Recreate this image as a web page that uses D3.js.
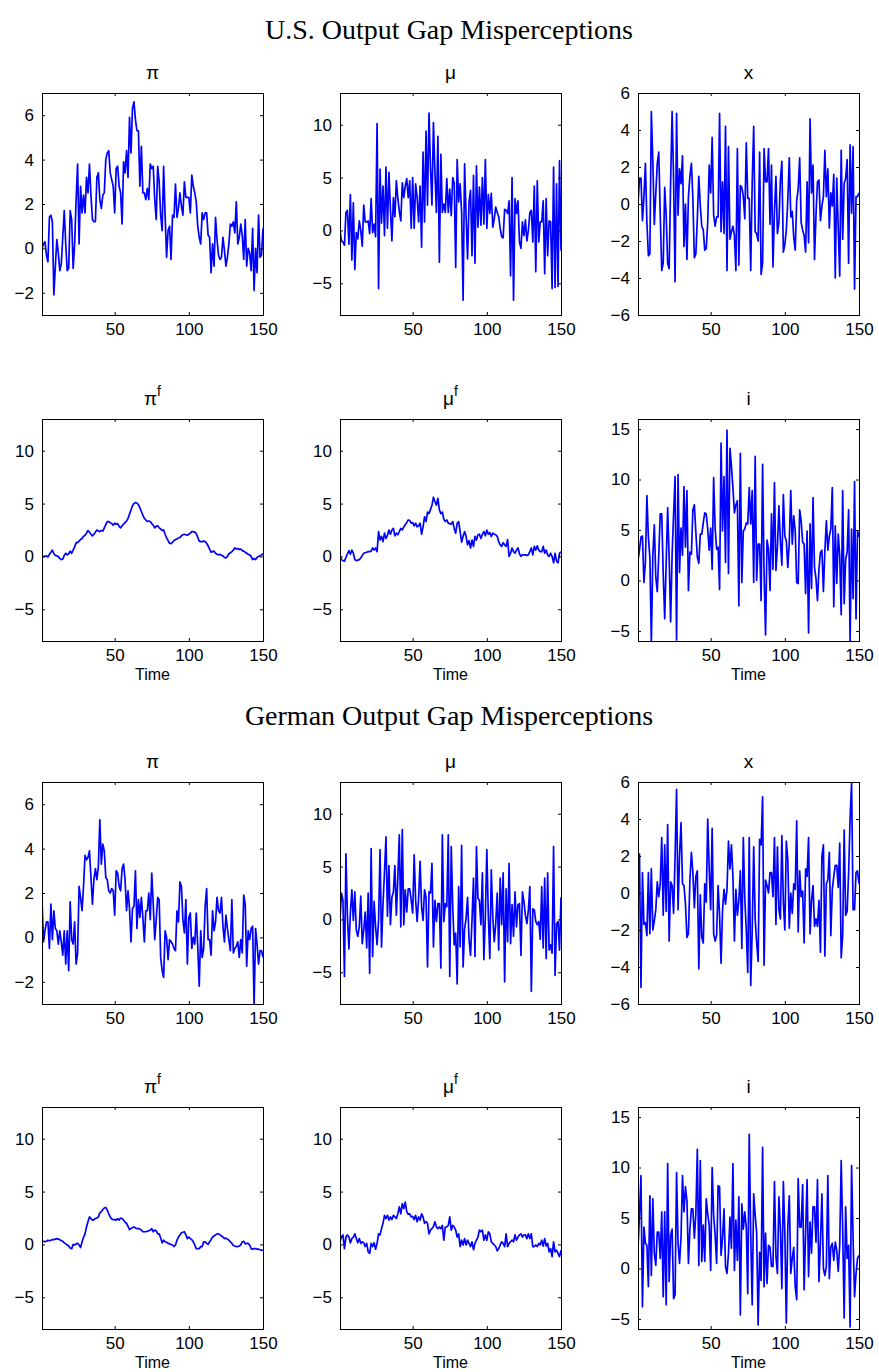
<!DOCTYPE html>
<html>
<head>
<meta charset="utf-8">
<script src="https://cdn.jsdelivr.net/npm/d3@7"></script>
<style>
  body { margin: 0; background: #ffffff; }
  svg { display: block; }
  text { font-family: "Liberation Sans", Arial, Helvetica, sans-serif; fill: #000; }
</style>
</head>
<body>
<svg id="fig" width="879" height="1372"></svg>
<script>
// ---- U.S. simulated paths (t = 1..150) ----
const usPi = [
  0.0,0.2,0.3,-0.3,-0.6,1.4,1.5,1.2,-2.1,-0.8,
  0.4,-0.2,-1.0,-0.7,0.5,1.7,0.2,-1.0,-0.9,1.7,
  1.3,-0.9,0.2,2.2,3.8,0.2,2.8,1.6,2.4,1.6,
  3.2,2.5,3.8,2.4,1.3,1.2,1.2,3.2,3.4,2.2,
  1.8,2.4,2.5,4.0,4.3,4.4,3.4,3.1,2.8,1.6,
  3.6,3.7,2.8,2.5,1.1,3.9,3.4,4.4,3.2,5.9,
  4.3,6.3,6.6,5.8,5.3,5.3,2.8,4.6,2.5,2.5,
  2.2,2.7,2.2,3.8,3.6,3.7,2.2,1.3,3.7,3.0,
  1.5,0.8,3.7,1.5,-0.4,0.8,1.0,-0.5,1.5,1.4,
  2.9,1.4,1.8,2.5,1.9,1.5,3.0,2.3,2.3,2.3,
  1.6,3.3,2.8,2.5,2.1,1.0,0.5,0.2,1.6,1.3,
  1.6,1.6,0.6,0.5,-1.1,0.2,-0.8,1.4,0.4,-0.3,
  -0.5,-0.4,0.5,-0.1,-0.8,-0.4,0.2,1.1,1.0,1.2,
  0.7,2.1,0.2,0.5,1.1,0.6,-0.5,1.3,-0.8,0.0,
  -0.2,-1.0,0.9,-1.9,0.0,-1.1,1.5,-0.4,-0.3,0.9
];
const usMu = [
  0.0,-1.0,-1.1,-1.4,1.7,1.9,-1.3,3.4,-2.8,2.6,
  -3.7,-0.2,-0.8,0.9,0.0,-1.5,2.4,0.8,0.8,0.9,
  -0.3,3.0,-0.2,0.6,-0.6,10.1,-5.5,5.8,0.7,4.2,
  -0.5,6.0,0.2,5.5,2.0,-1.0,3.1,1.3,4.7,3.0,
  1.8,0.9,4.5,3.1,4.2,4.9,3.1,4.7,0.2,5.0,
  0.2,4.4,3.1,0.8,4.2,-1.6,7.4,0.8,9.4,2.4,
  11.1,6.0,2.4,10.2,5.5,1.7,8.9,-3.0,7.2,1.7,
  2.5,1.7,4.9,1.7,3.9,1.4,5.0,4.5,-3.5,6.7,
  2.7,4.4,1.7,-6.6,6.3,1.4,-2.7,2.7,3.8,-2.4,
  5.2,-3.1,6.1,0.3,4.1,0.5,5.0,0.6,6.7,0.2,
  3.4,1.6,3.5,0.3,1.1,2.2,1.7,1.3,0.2,-0.6,
  -0.7,2.0,1.9,1.6,2.8,-4.3,5.0,-6.6,3.0,1.6,
  2.8,-1.1,-1.7,0.8,-0.5,1.0,-1.0,0.0,1.7,1.9,
  -1.1,4.2,-3.9,4.7,-1.1,0.8,0.8,2.8,-4.1,3.0,
  -2.4,0.9,0.8,-5.5,6.0,-5.4,4.4,-5.3,6.6,-1.9
];
const usX = [
  0.0,1.4,1.4,-0.9,0.4,2.2,-1.0,-2.8,-2.7,5.0,
  2.3,-1.1,0.6,2.2,2.8,-0.6,-3.6,-3.2,0.9,-0.6,
  -3.2,-3.5,1.2,5.0,1.3,-4.2,4.9,-0.6,1.9,1.1,
  2.6,-2.3,0.0,-3.0,0.4,1.5,2.2,0.3,-2.9,-2.7,
  -0.8,1.5,-0.1,-1.2,-1.4,-2.5,-2.4,-1.0,2.1,0.6,
  3.6,-0.6,-1.2,-0.7,-0.7,4.9,-1.5,1.2,-1.6,4.2,
  -3.6,3.1,-1.9,-1.5,-1.2,-1.7,-3.6,3.0,-3.3,1.0,
  0.9,0.4,-0.8,3.3,0.3,0.3,-3.6,1.2,4.2,-1.5,
  -1.6,-2.0,2.8,-3.8,-3.2,3.0,1.2,1.2,3.0,-1.1,
  2.1,-3.4,-0.4,1.5,-1.6,-1.0,1.3,2.3,-2.6,-2.2,
  -1.4,0.2,2.5,-0.7,-0.4,-1.8,-2.5,0.2,0.8,2.5,
  -1.0,-1.4,-1.7,-2.6,1.2,-2.1,4.6,0.6,2.1,-3.0,
  -0.6,1.2,1.3,-0.9,-0.1,0.4,2.9,0.4,1.9,-1.3,
  0.6,-0.1,1.6,-4.0,1.4,-1.3,-3.9,2.9,-1.9,1.1,
  1.4,2.4,-3.2,3.2,-0.5,3.1,-4.6,0.4,0.4,0.6
];
const usPiF = [
  0.0,0.02,0.0,0.05,-0.05, 0.2,0.4,0.6,0.25,0.1,
  0.05,0.0,-0.2,-0.3,-0.25, 0.1,0.3,0.15,0.25,0.5,
  0.3,0.6,0.9,1.3,1.3, 1.45,1.6,1.7,1.9,2.0,
  2.2,2.45,2.3,2.1,1.95, 2.1,2.3,2.5,2.4,2.35,
  2.45,2.4,2.7,3.0,3.3, 3.3,3.2,3.1,2.95,3.15,
  3.05,3.1,2.85,2.7,2.9, 3.05,3.2,3.35,3.6,4.0,
  4.4,4.8,5.0,5.1,5.05, 4.9,4.6,4.25,3.9,3.6,
  3.45,3.3,3.35,3.3,3.1, 2.95,2.7,2.85,2.9,2.7,
  2.6,2.45,2.5,2.1,1.75, 1.5,1.25,1.2,1.35,1.5,
  1.6,1.65,1.75,1.8,1.95, 2.05,2.1,2.05,2.0,2.1,
  2.2,2.35,2.35,2.3,2.15, 1.8,1.45,1.4,1.4,1.45,
  1.4,1.25,1.0,0.7,0.4, 0.45,0.5,0.3,0.2,0.15,
  0.2,0.1,0.05,-0.1,-0.15, 0.0,0.25,0.35,0.45,0.6,
  0.8,0.7,0.75,0.65,0.7, 0.55,0.5,0.4,0.3,0.2,
  0.15,0.0,-0.3,-0.2,-0.3, -0.1,0.0,0.05,0.15,0.25
];
const usMuF = [
  0.0,-0.3,-0.4,-0.45,-0.1, 0.25,0.55,0.2,0.6,0.3,
  -0.3,-0.4,-0.35,-0.3,-0.15, 0.1,0.3,0.35,0.4,0.45,
  0.45,0.5,0.8,0.6,0.8, 0.45,2.35,1.55,1.9,1.4,
  2.2,1.7,2.0,2.5,2.1, 2.5,2.65,1.95,2.2,2.05,
  2.35,2.65,2.5,2.8,3.0, 3.2,3.45,3.4,3.15,3.2,
  2.9,3.15,2.8,2.9,3.15, 2.1,2.8,3.75,3.3,4.2,
  4.05,4.45,4.85,5.6,5.2, 4.85,5.5,4.4,4.05,4.2,
  3.5,3.3,3.45,3.15,3.1, 3.05,3.3,2.65,2.2,3.15,
  3.3,2.35,1.35,1.9,2.35, 1.9,1.1,1.5,0.8,1.55,
  0.95,1.9,1.55,2.05,2.1, 1.7,2.1,2.35,1.95,2.5,
  2.1,2.25,1.9,2.2,2.1, 2.05,1.9,1.4,1.1,0.95,
  1.3,1.1,0.95,1.6,0.0, 0.3,0.8,0.45,0.3,0.6,
  0.8,0.25,0.0,0.15,0.15, 0.15,0.1,0.15,0.45,0.8,
  0.15,0.95,0.6,1.0,0.6, 0.45,0.45,0.95,0.3,0.6,
  0.15,0.0,0.3,0.0,-0.6, 0.3,-0.45,-0.6,0.3,0.45
];
const usI = [
  2.0,3.0,4.3,4.4,-0.2,1.8,8.4,4.3,2.3,-6.2,
  2.5,5.5,0.3,-1.1,2.5,6.6,6.6,0.7,-3.8,1.8,
  7.2,2.3,-4.1,2.6,6.6,10.3,-5.9,10.5,0.8,5.2,
  2.5,9.3,3.3,8.9,-1.0,2.8,2.6,7.0,7.5,4.8,
  2.3,1.7,4.6,4.6,5.7,6.7,6.6,5.1,3.0,5.2,
  1.1,10.2,5.2,3.1,3.3,-0.9,13.6,4.9,10.3,1.8,
  14.9,0.7,13.1,11.3,9.2,6.7,7.5,7.9,-2.5,12.6,
  -0.2,4.9,5.1,5.7,5.6,9.2,5.6,8.9,-0.2,12.3,
  0.0,3.6,3.6,-2.0,11.5,0.7,-5.4,4.0,3.1,-1.0,
  6.6,1.1,9.7,1.0,3.3,7.4,3.9,1.5,8.5,4.4,
  3.9,1.3,3.8,8.9,3.6,6.4,4.9,-0.2,-0.3,7.0,
  5.9,3.8,3.6,-1.3,4.9,-5.2,5.6,-0.8,8.2,1.3,
  0.2,-2.0,1.1,2.8,3.0,-1.1,3.0,5.9,3.0,4.4,
  5.1,9.2,-2.6,5.4,-0.3,4.6,2.5,-3.4,8.9,-2.3,
  2.1,2.8,7.0,-6.1,5.1,-1.8,9.8,-3.8,4.9,4.3
];

// ---- German simulated paths (t = 1..150) ----
const dePi = [
  1.7,-0.2,0.3,0.7,0.7,-0.5,1.5,-0.1,1.2,0.4,
  0.3,-0.3,0.3,-0.2,-0.8,0.3,-1.2,0.3,-1.5,1.6,
  -0.1,-0.3,0.7,-1.2,-0.7,2.3,1.8,1.2,2.3,3.7,
  3.5,3.6,3.9,2.7,1.5,2.6,3.1,2.6,3.2,5.3,
  3.3,4.2,3.9,2.7,2.6,2.1,2.0,2.2,2.1,1.0,
  3.0,2.9,2.3,2.1,3.1,3.3,2.6,1.2,2.1,1.3,
  -0.2,1.3,1.4,3.0,0.4,1.7,0.9,1.8,0.9,-0.2,
  1.2,1.2,2.0,0.8,2.9,1.5,-0.1,0.8,1.8,1.7,
  -0.9,-1.5,-1.8,0.3,0.0,-1.0,-0.1,-0.2,-0.3,-0.5,
  -0.6,1.2,0.7,2.5,2.3,0.8,0.2,1.7,-1.2,0.9,
  1.1,-0.5,0.0,-0.3,1.1,-0.4,-2.2,0.3,-0.9,-0.5,
  1.4,2.2,-0.1,-0.1,-0.8,1.2,0.3,0.7,1.8,1.2,
  1.1,1.8,0.5,-0.2,1.0,0.4,-0.1,-0.6,1.7,-0.7,
  -0.5,-0.4,-0.2,-0.9,-0.1,-0.7,1.9,1.5,-1.3,0.3,
  -0.1,0.4,0.5,-3.1,0.4,-0.3,-1.2,-0.6,-0.6,-0.9
];
const deMu = [
  0.0,2.5,1.8,-5.4,6.2,0.3,-2.8,0.6,2.8,-0.1,
  2.6,-1.0,-1.6,-0.7,2.2,-2.3,-1.0,0.7,-2.7,2.5,
  -5.1,6.7,-3.5,1.7,-0.7,-2.4,-0.1,6.6,-2.6,1.5,
  4.5,7.8,0.3,5.1,-0.5,2.1,2.6,5.1,0.4,4.0,
  8.0,-0.7,8.5,-0.5,2.8,0.7,2.9,2.9,1.8,0.6,
  6.1,1.8,-0.2,2.0,5.5,1.2,-0.1,2.8,2.1,-4.5,
  2.6,2.5,5.3,-2.6,1.8,-0.2,1.5,1.5,-4.6,8.0,
  -0.2,1.5,1.2,8.0,-5.4,6.9,1.2,-2.4,-1.3,-6.1,
  3.1,-2.6,7.0,-4.5,-0.9,0.1,2.1,-1.9,-3.4,-0.1,
  3.9,-3.5,6.9,2.0,1.8,-0.5,4.4,-3.8,0.3,6.6,
  0.4,-3.7,4.7,0.3,-2.1,-0.4,2.5,-2.9,3.9,-0.5,
  4.4,-5.9,2.9,-2.1,5.3,-2.3,1.4,-1.6,2.6,-0.7,
  1.4,1.5,-3.4,2.6,1.7,0.4,-0.4,0.9,3.1,-6.8,
  1.0,0.9,-0.2,-0.5,-0.2,-1.9,3.1,-2.7,3.9,-3.7,
  4.4,-2.9,-2.4,-3.2,6.9,-5.3,-0.4,-0.2,-2.9,2.1
];
const deX = [
  0.0,2.1,-5.1,1.1,-1.7,-1.6,-2.3,1.1,-2.2,1.3,
  -2.0,-1.5,-0.9,0.6,-0.2,0.5,3.0,-1.2,2.6,-1.0,
  3.7,-2.6,0.6,0.4,-1.1,2.0,5.6,-0.9,2.0,3.8,
  0.5,0.4,-0.6,-2.4,-2.2,0.7,2.2,1.1,-0.8,0.9,
  1.2,-4.1,-0.1,-2.4,-2.7,0.5,-0.5,4.0,1.3,-0.9,
  3.5,-2.2,-2.6,-2.3,0.4,-1.2,-3.8,-0.9,0.2,-0.6,
  0.2,2.8,1.3,2.6,0.9,-2.6,0.2,-1.2,-0.4,1.2,
  -3.0,3.0,-0.3,-2.0,-4.3,3.0,-5.0,-2.0,2.5,-1.4,
  -2.7,-3.7,2.9,2.6,5.2,-3.9,0.7,0.4,0.0,1.1,
  1.1,-0.2,3.0,-1.7,2.5,-0.9,-1.4,3.1,-0.5,-2.0,
  2.8,1.8,-1.9,0.0,-1.1,0.5,0.2,3.9,-2.1,1.2,
  -0.2,0.1,-2.7,1.3,0.9,3.0,-2.2,-0.4,0.4,-1.8,
  -1.4,-1.8,-0.4,-3.2,2.0,2.6,-3.4,0.5,0.7,2.2,
  -2.3,0.2,0.9,1.5,1.5,0.3,2.7,-3.5,-2.3,3.4,
  -1.2,-1.0,1.1,4.0,6.0,-0.9,-0.9,1.1,1.2,0.5
];
const dePiF = [
  0.25,0.3,0.25,0.3,0.4,0.35,0.4,0.45,0.45,0.5,
  0.55,0.5,0.45,0.35,0.3,0.15,0.05,-0.05,-0.15,-0.35,
  -0.4,0.0,-0.05,0.05,0.1,-0.05,-0.3,0.25,0.65,1.0,
  1.65,2.15,2.6,2.45,2.3,2.35,2.45,2.5,2.6,3.0,
  3.1,3.3,3.45,3.5,3.25,2.9,2.6,2.4,2.35,2.35,
  2.3,2.45,2.3,2.5,2.45,2.3,2.1,2.0,1.7,1.4,
  1.5,1.6,1.65,1.55,1.5,1.5,1.45,1.35,1.2,1.2,
  1.2,1.25,1.3,1.35,1.5,1.2,1.35,1.3,1.0,1.0,
  0.6,0.15,0.4,0.25,0.2,0.1,0.05,0.0,-0.05,-0.2,
  -0.05,0.4,0.7,0.9,1.1,1.15,1.2,0.9,0.55,0.7,
  0.55,0.45,0.25,-0.05,-0.4,-0.4,-0.4,-0.2,-0.2,0.25,
  0.25,0.1,0.0,0.25,0.45,0.7,0.8,0.9,1.0,1.0,
  0.9,0.8,0.7,0.55,0.6,0.5,0.4,0.25,0.1,-0.1,
  -0.15,-0.2,-0.2,-0.15,-0.05,0.25,0.3,0.05,0.1,0.1,
  -0.05,-0.4,-0.45,-0.4,-0.4,-0.45,-0.45,-0.5,-0.55,-0.55
];
const deMuF = [
  0.25,0.7,0.9,-0.4,0.7,0.9,0.7,0.15,0.55,0.7,
  1.0,0.55,0.15,0.55,0.1,0.25,0.15,-0.2,0.1,-0.7,
  -0.85,0.1,-0.2,0.15,-0.45,0.1,1.0,0.9,1.5,2.0,
  2.75,2.45,2.75,2.3,2.6,2.35,2.75,2.6,2.45,2.9,
  3.55,2.9,3.85,3.4,4.0,3.1,2.85,2.9,2.6,2.65,
  2.35,2.75,2.15,2.6,2.3,2.9,2.6,2.0,2.15,2.0,
  1.0,1.35,1.5,1.7,2.15,1.65,1.5,1.65,1.5,1.8,
  0.4,1.65,1.65,1.8,2.6,1.35,1.8,1.65,1.35,0.7,
  1.0,-0.2,0.4,-0.05,0.55,-0.05,0.4,0.1,-0.2,0.25,
  -0.5,0.1,0.4,0.7,1.35,1.2,1.35,0.4,0.9,0.4,
  1.2,1.0,0.25,0.1,-0.05,-0.2,-0.6,-0.4,-0.05,0.25,
  0.1,-0.2,1.0,-0.2,0.1,0.25,0.4,0.25,0.9,0.4,
  0.7,0.9,1.0,0.7,0.9,0.9,0.55,1.0,0.55,1.0,
  -0.2,-0.2,-0.05,-0.2,0.1,-0.05,0.4,-0.15,0.55,-0.15,
  0.1,-0.7,-0.4,-1.15,0.25,-0.7,-0.55,-0.85,-1.15,-0.55
];
const deI = [
  2.0,5.4,9.2,-3.8,4.1,2.5,2.3,-1.8,7.2,-0.7,
  6.9,1.5,0.3,3.6,3.6,1.0,5.6,-2.8,5.6,-3.6,
  10.4,-1.3,3.3,3.9,-3.0,-2.6,9.5,2.5,0.5,3.1,
  9.2,5.6,8.1,6.7,0.5,3.9,5.9,5.9,3.0,5.4,
  11.8,0.3,10.7,0.7,4.3,0.7,6.9,5.4,4.3,-0.2,
  10.0,5.3,3.3,0.5,8.2,8.1,1.3,3.0,5.9,0.2,
  -0.5,1.5,5.1,2.0,10.4,-0.2,4.8,0.8,7.1,-4.6,
  6.4,3.9,5.6,4.1,-2.5,13.3,3.3,-3.6,7.4,5.3,
  3.5,-5.6,1.6,-1.2,12.0,-1.8,3.5,-1.5,2.3,2.1,
  0.2,0.2,8.6,1.2,-0.5,7.1,3.9,-2.0,8.6,3.5,
  -5.4,4.1,7.2,-0.5,1.0,2.1,-1.8,-3.1,8.9,4.1,
  4.1,8.3,-2.1,3.5,8.8,-0.8,4.6,1.5,6.1,6.1,
  2.6,8.8,-1.3,2.5,7.4,0.0,-0.7,0.2,9.2,-1.0,
  2.1,2.5,0.8,2.6,1.8,-0.3,2.3,10.7,3.9,-4.9,
  6.1,1.0,2.3,-5.8,10.2,3.0,-2.8,-0.5,1.0,1.3
];

// ---- labels, axis limits and ticks ----
const figureTitles = ["U.S. Output Gap Misperceptions", "German Output Gap Misperceptions"];
const panelSymbols = ["π", "μ", "x", "π", "μ", "i"];
const panelSuperscripts = ["", "", "", "f", "f", ""];
const yDomains = [[-3, 7], [-8, 13], [-6, 6], [-8, 13], [-8, 13], [-6, 16]];
const yTickValues = [[-2, 0, 2, 4, 6], [-5, 0, 5, 10], [-6, -4, -2, 0, 2, 4, 6],
                     [-5, 0, 5, 10], [-5, 0, 5, 10], [-5, 0, 5, 10, 15]];
const xTickValues = [50, 100, 150];
const xDomain = [1, 150];
const xLabel = "Time";

const figureSeries = [
  [usPi, usMu, usX, usPiF, usMuF, usI],
  [dePi, deMu, deX, dePiF, deMuF, deI]
];

// ---- layout ----
const colLeft = [42, 340, 638];
const rowTop = [93, 419, 782, 1107];
const axW = 221, axH = 222;
const titleY = [39, 725];
const tickLen = 3;

const svg = d3.select("#fig");
svg.append("rect").attr("width", 879).attr("height", 1372).attr("fill", "#fff");

const fmt = d3.format("d");

figureTitles.forEach((title, f) => {
  svg.append("text")
    .attr("x", 449).attr("y", titleY[f])
    .attr("text-anchor", "middle")
    .style("font-family", "'Liberation Serif', 'Times New Roman', Times, serif")
    .style("font-size", "28px")
    .text(title);

  figureSeries[f].forEach((values, p) => {
    const row = f * 2 + Math.floor(p / 3);
    const col = p % 3;
    const left = colLeft[col], top = rowTop[row];
    const g = svg.append("g").attr("transform", `translate(${left},${top})`);

    const x = d3.scaleLinear().domain(xDomain).range([0, axW]);
    const y = d3.scaleLinear().domain(yDomains[p]).range([axH, 0]);

    const clipId = `clip-${f}-${p}`;
    g.append("clipPath").attr("id", clipId)
      .append("rect").attr("width", axW).attr("height", axH);

    const line = d3.line().x((d, i) => x(i + 1)).y(d => y(d));
    g.append("path")
      .datum(values)
      .attr("clip-path", `url(#${clipId})`)
      .attr("fill", "none")
      .attr("stroke", "#0000ff")
      .attr("stroke-width", 1.7)
      .attr("stroke-linejoin", "round")
      .attr("d", line);

    // bottom axis with labels, ticks pointing inward
    const bottom = g.append("g").attr("transform", `translate(0,${axH})`)
      .call(d3.axisBottom(x).tickValues(xTickValues).tickFormat(fmt)
        .tickSizeInner(-tickLen).tickSizeOuter(0).tickPadding(8));
    const leftAx = g.append("g")
      .call(d3.axisLeft(y).tickValues(yTickValues[p]).tickFormat(fmt)
        .tickSizeInner(-tickLen).tickSizeOuter(0).tickPadding(8));
    const topAx = g.append("g")
      .call(d3.axisTop(x).tickValues(xTickValues).tickFormat("")
        .tickSizeInner(-tickLen).tickSizeOuter(0));
    const rightAx = g.append("g").attr("transform", `translate(${axW},0)`)
      .call(d3.axisRight(y).tickValues(yTickValues[p]).tickFormat("")
        .tickSizeInner(-tickLen).tickSizeOuter(0));

    [bottom, leftAx, topAx, rightAx].forEach(a => {
      a.select(".domain").remove();
      a.selectAll(".tick line").attr("stroke", "#000").attr("stroke-width", 1);
      a.selectAll(".tick text")
        .style("font-family", "'Liberation Sans', Arial, Helvetica, sans-serif")
        .style("font-size", "17px")
        .attr("fill", "#000");
    });

    // axes box
    g.append("rect")
      .attr("x", 0.5).attr("y", 0.5)
      .attr("width", axW).attr("height", axH)
      .attr("fill", "none").attr("stroke", "#000").attr("stroke-width", 1);

    // panel title
    const t = g.append("text")
      .attr("x", axW / 2).attr("y", -14)
      .attr("text-anchor", "middle")
      .style("font-size", "19px");
    t.append("tspan").text(panelSymbols[p]);
    if (panelSuperscripts[p]) {
      t.append("tspan").attr("dy", -9).style("font-size", "14px").text(panelSuperscripts[p]);
    }

    // x label on the lower row
    if (p >= 3) {
      g.append("text")
        .attr("x", axW / 2).attr("y", axH + 39)
        .attr("text-anchor", "middle")
        .style("font-size", "16px")
        .text(xLabel);
    }
  });
});
</script>
</body>
</html>
